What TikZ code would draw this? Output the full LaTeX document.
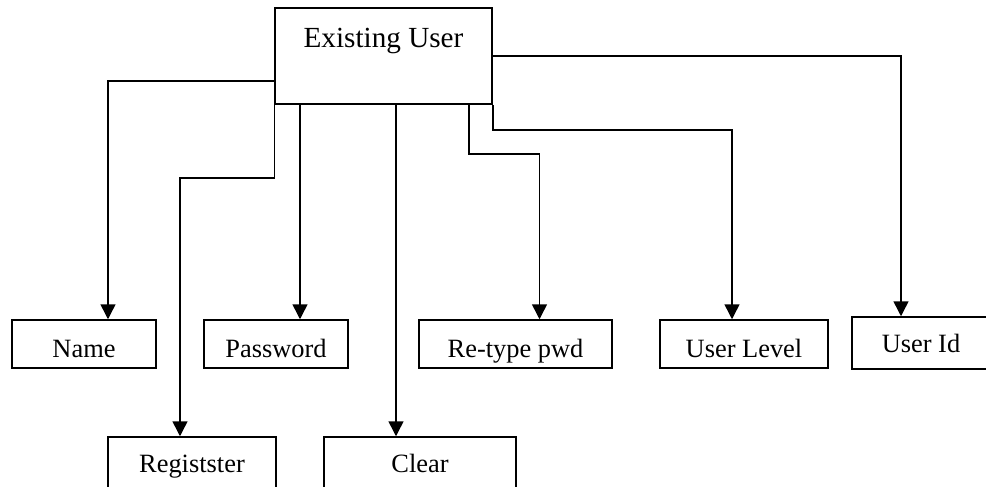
\documentclass[tikz,border=0pt]{standalone}
\usepackage{fontspec}
\setmainfont{Liberation Serif}
\usetikzlibrary{arrows.meta}

\begin{document}
\begin{tikzpicture}[x=0.5pt, y=-0.5pt, line width=0.75pt,
		box/.style={draw, rectangle, inner sep=0pt, text height=18.5pt, text depth=5.5pt,
			font=\fontsize{13.2}{15}\selectfont},
		link/.style={-{Triangle[length=7.5pt, width=7.5pt]}}]
				\useasboundingbox (0, 0) rectangle (986, 487);
				% top box, text sits high
				\node[box, minimum width=108.5pt, text height=19.5pt, text depth=28.5pt,
				font=\fontsize{14.6}{17}\selectfont] (eu) at (383.5, 56) {Existing User};
				% first row
				\node[box, minimum width=72pt] (name) at (84, 344) {Name};
				\node[box, minimum width=72pt] (pwd) at (276, 344) {Password};
				\node[box, minimum width=96.5pt] (rtp) at (515.5, 344) {Re-type pwd};
				\node[box, minimum width=84pt] (ulv) at (744, 344) {User Level};
				\node[box, minimum width=69pt, text height=17.5pt, text depth=8.5pt] (uid) at (921, 343) {User Id};
				% second row
				\node[box, minimum width=84pt, text height=17.5pt, text depth=9pt] (reg) at (192, 463.5) {Registster};
				\node[box, minimum width=96pt, text height=17.5pt, text depth=9pt] (clr) at (420, 463.5) {Clear};
				% links
				\draw[link] ([yshift=12pt]eu.south west) -| ([xshift=12pt]name.north);
				\draw[link] (eu.south west) -- ++(0, -36.5pt) -| ([xshift=-6pt]reg.north);
				\draw[link] ([xshift=12pt]pwd.north |- eu.south) -- ([xshift=12pt]pwd.north);
				\draw[link] ([xshift=-12pt]clr.north |- eu.south) -- ([xshift=-12pt]clr.north);
				\draw[link] ([xshift=-12pt]eu.south east) -- ++(0, -24.5pt) -| ([xshift=12pt]rtp.north);
				\draw[link] (eu.south east) -- ++(0, -12.5pt) -| ([xshift=-6pt]ulv.north);
				\draw[link] (eu.east) -| ([xshift=-10pt]uid.north);
			\end{tikzpicture}
\end{document}
